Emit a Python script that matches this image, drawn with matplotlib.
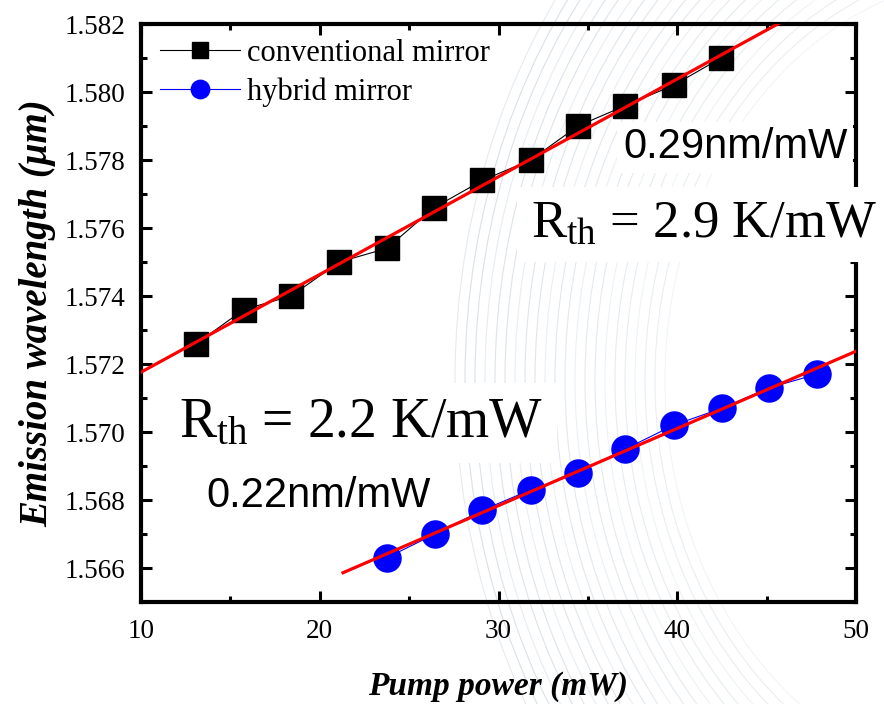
import numpy as np
import matplotlib
matplotlib.use("Agg")
import matplotlib.pyplot as plt
from matplotlib.patches import Arc
from matplotlib.ticker import MultipleLocator, FormatStrFormatter

# ---------------- data ----------------
conv_power = [13.1, 15.75, 18.4, 21.1, 23.75, 26.4, 29.1, 31.8, 34.45, 37.1, 39.8, 42.45]
conv_wl = [1.5726, 1.5736, 1.5740, 1.5750, 1.5754, 1.5766, 1.5774, 1.5780, 1.5790, 1.5796, 1.5802, 1.5810]
hyb_power = [23.75, 26.45, 29.1, 31.8, 34.45, 37.1, 39.8, 42.5, 45.15, 47.8]
hyb_wl = [1.5663, 1.5670, 1.5677, 1.5683, 1.5688, 1.5695, 1.5702, 1.5707, 1.5713, 1.5717]
conv_fit_range = [10, 50]
hyb_fit_range = [21.3, 50]
series_labels = ["conventional mirror", "hybrid mirror"]
annot_conv_slope = "0.29nm/mW"
annot_hyb_slope = "0.22nm/mW"
annot_conv_rth = r"R$_{\mathrm{th}}$ = 2.9 K/mW"
annot_hyb_rth = r"R$_{\mathrm{th}}$ = 2.2 K/mW"
xlabel = "Pump power (mW)"
ylabel = "Emission wavelength (\u03bcm)"

plt.rcParams["mathtext.fontset"] = "custom"
plt.rcParams["mathtext.rm"] = "Liberation Serif"
plt.rcParams["mathtext.it"] = "Liberation Serif:italic"
plt.rcParams["font.family"] = ["Liberation Serif", "DejaVu Serif"]

W, H = 884, 704
fig = plt.figure(figsize=(W / 100, H / 100), dpi=100)
ax = fig.add_axes([141 / W, 1 - 602 / H, (856 - 141) / W, (602 - 24) / H])
ax.patch.set_alpha(0)

# faint background arcs (decorative)
cx, cy = 1000 / W, 1 - 380 / H
n_arcs = 22
for i in range(n_arcs):
    a = 545 - i * 10
    b = a * 1.207
    alpha = 0.45 if i % 3 else 0.3
    arc = Arc((cx, cy), 2 * a / W, 2 * b / H, theta1=90, theta2=270,
              transform=fig.transFigure, color="#a9bccb", lw=0.8,
              alpha=alpha * (1.0 - 0.5 * i / n_arcs), zorder=-1)
    fig.add_artist(arc)

# data
ax.plot(conv_power, conv_wl, color="black", lw=0.8, marker="s", ms=17,
        mfc="black", mec="black", label=series_labels[0], zorder=3)
ax.plot(hyb_power, hyb_wl, color="blue", lw=0.8, marker="o", ms=19.5,
        mfc="blue", mec="blue", label=series_labels[1], zorder=3)

# linear fits
pc = np.polyfit(conv_power, conv_wl, 1)
xc = np.array(conv_fit_range)
ax.plot(xc, np.polyval(pc, xc), color="red", lw=2.3, zorder=4)
ph = np.polyfit(hyb_power, hyb_wl, 1)
xh = np.array(hyb_fit_range)
ax.plot(xh, np.polyval(ph, xh), color="red", lw=2.3, zorder=4)

ax.set_xlim(10, 50)
ax.set_ylim(1.565, 1.582)
ax.xaxis.set_major_locator(MultipleLocator(10))
ax.xaxis.set_minor_locator(MultipleLocator(5))
ax.yaxis.set_major_locator(MultipleLocator(0.002))
ax.yaxis.set_minor_locator(MultipleLocator(0.001))
ax.yaxis.set_major_formatter(FormatStrFormatter("%.3f"))
ax.tick_params(which="both", direction="in", top=True, right=True, width=2.2,
               labelsize=19.5)
ax.tick_params(axis="x", which="both", pad=12)
ax.tick_params(axis="y", which="both", pad=11)
ax.tick_params(which="major", length=8)
ax.tick_params(which="minor", length=4.5)
for s in ax.spines.values():
    s.set_linewidth(3)

ax.set_xlabel(xlabel, fontsize=24, fontweight="bold", fontstyle="italic", labelpad=20)
ax.set_ylabel(ylabel, fontsize=28, fontweight="bold", fontstyle="italic", labelpad=6)

leg = ax.legend(loc="upper left", bbox_to_anchor=(-0.003, 1.011), frameon=False,
                fontsize=22, markerscale=0.68, handlelength=2.6,
                handletextpad=0.25, labelspacing=0.3, borderaxespad=0.3)

# annotations
ax.text(0.674, 0.768, annot_conv_slope, transform=ax.transAxes,
        fontsize=30, family="Liberation Sans", ha="left", va="baseline",
        bbox=dict(facecolor="white", edgecolor="none", pad=4), zorder=2.4)
ax.text(0.545, 0.631, annot_conv_rth, transform=ax.transAxes,
        fontsize=38, ha="left", va="baseline",
        bbox=dict(facecolor="white", edgecolor="none", pad=10), zorder=5)
ax.text(0.053, 0.2855, annot_hyb_rth, transform=ax.transAxes,
        fontsize=40, ha="left", va="baseline",
        bbox=dict(facecolor="white", edgecolor="none", pad=10), zorder=5)
ax.text(0.092, 0.164, annot_hyb_slope, transform=ax.transAxes,
        fontsize=30, family="Liberation Sans", ha="left", va="baseline",
        zorder=5)

fig.savefig("out.png", dpi=100)
